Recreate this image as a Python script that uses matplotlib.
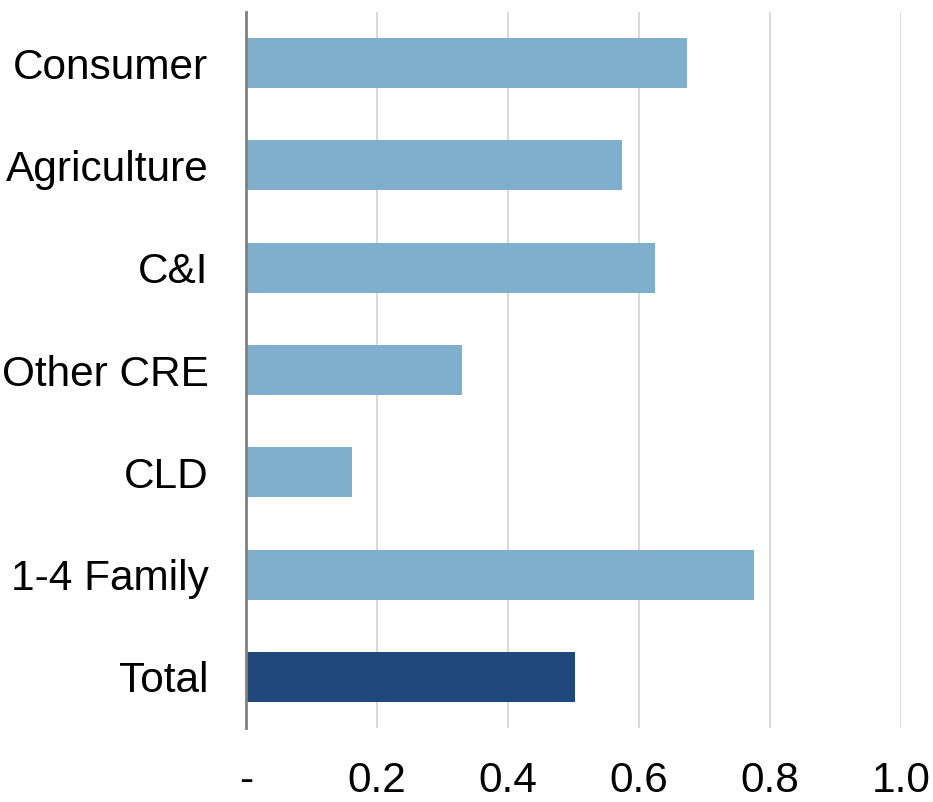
import matplotlib.pyplot as plt
import numpy as np

# categories listed top to bottom as in the chart
categories = ['Consumer', 'Agriculture', 'C&I', 'Other CRE', 'CLD', '1-4 Family', 'Total']
values = [0.673, 0.574, 0.624, 0.330, 0.162, 0.776, 0.502]
colors = ['#7FAFCD'] * 6 + ['#1F497D']
xticks = [0, 0.2, 0.4, 0.6, 0.8, 1.0]
xtick_labels = ['-', '0.2', '0.4', '0.6', '0.8', '1.0']

plt.rcParams['font.family'] = ['Liberation Sans', 'DejaVu Sans']

fig = plt.figure(figsize=(9.33, 8.02), dpi=100)
ax = fig.add_axes([246 / 933, 1 - 728 / 802, 655 / 933, 716 / 802])

pos = np.arange(len(categories))
ax.barh(pos, values, height=0.49, color=colors, zorder=3)

ax.set_ylim(len(categories) - 0.5, -0.5)
ax.set_xlim(0, 1.0)
ax.set_yticks(pos)
ax.set_yticklabels(categories)
ax.set_xticks(xticks)
ax.set_xticklabels(xtick_labels)
ax.tick_params(axis='both', length=0, labelsize=30.5)
ax.tick_params(axis='x', pad=24)
ax.tick_params(axis='y', pad=27)

ax.grid(axis='x', color='#D9D9D9', linewidth=1.5, zorder=0)
for s in ['top', 'right', 'bottom']:
    ax.spines[s].set_visible(False)
ax.spines['left'].set_color('#808080')
ax.spines['left'].set_linewidth(2)
ax.spines['left'].set_zorder(4)

fig.savefig('out.png', dpi=100)
